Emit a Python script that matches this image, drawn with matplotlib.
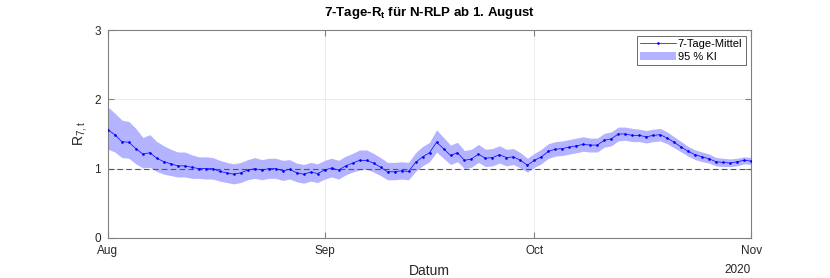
import numpy as np
import pandas as pd
import matplotlib
matplotlib.use('Agg')
import matplotlib.pyplot as plt
import matplotlib.dates as mdates

plt.rcParams['font.family'] = ['Liberation Sans', 'DejaVu Sans']

# daily values, 1 Aug 2020 .. 1 Nov 2020
dates = pd.date_range('2020-08-01', '2020-11-01', freq='D')

r_mean = [1.56, 1.49, 1.39, 1.38, 1.29, 1.21, 1.23, 1.15, 1.10, 1.07,
          1.04, 1.04, 1.02, 1.00, 1.00, 1.00, 0.96, 0.94, 0.92, 0.94,
          0.98, 1.00, 0.98, 1.00, 1.00, 0.97, 0.99, 0.94, 0.92, 0.95,
          0.93, 0.98, 1.01, 0.98, 1.04, 1.08, 1.12, 1.12, 1.08, 1.02,
          0.955, 0.955, 0.97, 0.96, 1.09, 1.17, 1.23, 1.38, 1.29, 1.19,
          1.23, 1.12, 1.14, 1.21, 1.15, 1.16, 1.20, 1.16, 1.17, 1.12,
          1.05, 1.12, 1.17, 1.25, 1.28, 1.29, 1.31, 1.33, 1.35, 1.34,
          1.34, 1.41, 1.43, 1.50, 1.50, 1.48, 1.48, 1.46, 1.48, 1.49,
          1.44, 1.38, 1.31, 1.25, 1.20, 1.17, 1.14, 1.10, 1.09, 1.08,
          1.10, 1.12, 1.11]

ci_hi = [1.89, 1.80, 1.70, 1.68, 1.58, 1.45, 1.49, 1.39, 1.33, 1.28,
         1.24, 1.24, 1.20, 1.17, 1.17, 1.16, 1.12, 1.09, 1.07, 1.09,
         1.13, 1.16, 1.13, 1.15, 1.15, 1.12, 1.13, 1.08, 1.06, 1.09,
         1.07, 1.12, 1.15, 1.12, 1.18, 1.22, 1.27, 1.27, 1.22, 1.16,
         1.09, 1.09, 1.10, 1.09, 1.23, 1.32, 1.38, 1.56, 1.45, 1.34,
         1.38, 1.26, 1.28, 1.35, 1.28, 1.29, 1.33, 1.28, 1.29, 1.23,
         1.15, 1.22, 1.28, 1.36, 1.39, 1.40, 1.42, 1.44, 1.46, 1.44,
         1.44, 1.51, 1.53, 1.60, 1.60, 1.58, 1.57, 1.55, 1.57, 1.58,
         1.53, 1.46, 1.39, 1.32, 1.27, 1.24, 1.21, 1.16, 1.15, 1.14,
         1.15, 1.17, 1.16]

ci_lo = [1.28, 1.24, 1.16, 1.15, 1.07, 1.01, 1.02, 0.96, 0.92, 0.90,
         0.88, 0.88, 0.86, 0.86, 0.85, 0.85, 0.82, 0.80, 0.78, 0.80,
         0.84, 0.86, 0.84, 0.86, 0.86, 0.83, 0.85, 0.81, 0.79, 0.82,
         0.80, 0.85, 0.88, 0.85, 0.91, 0.95, 0.98, 0.99, 0.95, 0.90,
         0.84, 0.84, 0.85, 0.84, 0.96, 1.04, 1.10, 1.24, 1.15, 1.06,
         1.10, 1.00, 1.02, 1.09, 1.03, 1.04, 1.08, 1.04, 1.06, 1.01,
         0.95, 1.02, 1.07, 1.15, 1.18, 1.19, 1.21, 1.23, 1.25, 1.24,
         1.24, 1.31, 1.33, 1.40, 1.41, 1.39, 1.39, 1.37, 1.39, 1.40,
         1.36, 1.30, 1.24, 1.18, 1.13, 1.10, 1.08, 1.04, 1.03, 1.03,
         1.04, 1.07, 1.06]

month_ticks = pd.to_datetime(['2020-08-01', '2020-09-01', '2020-10-01', '2020-11-01'])

fig = plt.figure(figsize=(8.3, 2.78), dpi=100)
ax = fig.add_axes([0.130, 0.144, 0.775, 0.748])

band = ax.fill_between(dates, ci_lo, ci_hi, color='#b3b3ff', linewidth=0, zorder=1)
line, = ax.plot(dates, r_mean, '.-', color='#0000ff', linewidth=0.5, markersize=1.8,
                zorder=3)
ax.axhline(1, color='#555555', linestyle='--', linewidth=0.8, dashes=(5, 3), zorder=2)

ax.set_xlim(dates[0], dates[-1])
ax.set_ylim(0, 3)
ax.set_yticks([0, 1, 2, 3])
ax.set_xticks(month_ticks)
ax.xaxis.set_major_formatter(mdates.DateFormatter('%b'))

ax.grid(True, color='#ebebeb', linewidth=0.7, zorder=0)
ax.set_axisbelow(True)
for sp in ax.spines.values():
    sp.set_color('#808080')
    sp.set_linewidth(0.8)
ax.tick_params(direction='in', length=4, width=0.8, color='#808080',
               labelsize=8.5, labelcolor='#262626', top=True, right=True,
               labeltop=False, labelright=False, pad=5)

ax.set_title('7-Tage-R$_\\mathregular{t}$ für N-RLP ab 1. August', fontsize=9.5,
             fontweight='bold', pad=10, color='black')
ax.set_ylabel('R$_\\mathregular{7,t}$', fontsize=10, color='#262626', labelpad=4)
ax.set_xlabel('Datum', fontsize=10, color='#262626', labelpad=5)
ax.text(1.0, -0.154, '2020', transform=ax.transAxes, ha='right', va='center',
        fontsize=8.5, color='#262626')

leg = ax.legend([line, band], ['7-Tage-Mittel', '95 % KI'], loc='upper right',
                fontsize=8, frameon=True, fancybox=False,
                borderpad=0.3, handlelength=3.2, handletextpad=0.2,
                labelspacing=0.25, borderaxespad=0.5)
leg.get_frame().set_edgecolor('#262626')
leg.get_frame().set_linewidth(0.6)

fig.savefig('out.png', dpi=100)
